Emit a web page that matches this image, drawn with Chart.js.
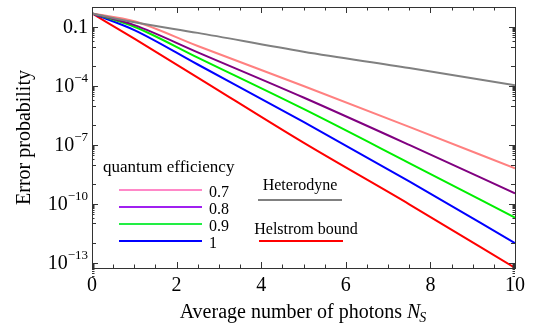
<!DOCTYPE html>
<html>
<head>
<meta charset="utf-8">
<script src="https://cdn.jsdelivr.net/npm/chart.js@4.4.1/dist/chart.umd.min.js"></script>
<style>
  html, body { margin: 0; padding: 0; background: #fff; }
  #wrap { width: 533px; height: 329px; }
</style>
</head>
<body>
<div id="wrap"><canvas id="chart" width="533" height="329"></canvas></div>
<script>
// values
const photons = [0, 1, 2.5, 5, 7.5, 10];
const heterodyne = [0.5, 0.178, 0.051, 5.6e-3, 8.3e-4, 1.1e-4];
const eff07 = [0.5, 0.2, 1.1e-2, 1.0e-4, 8.3e-7, 6.4e-9];
const eff08 = [0.5, 0.126, 5.2e-3, 2.6e-5, 1.0e-7, 3.4e-10];
const eff09 = [0.5, 0.105, 2.8e-3, 6.8e-6, 1.2e-8, 2.0e-11];
const eff10 = [0.5, 0.071, 1.25e-3, 1.5e-6, 1.4e-9, 1.0e-12];
const helstrom = [0.5, 0.026, 2.7e-4, 1.3e-7, 9.5e-11, 5.5e-14];

const xTickLabels = ['0', '2', '4', '6', '8', '10'];
const yTickExps = [-1, -4, -7, -10, -13];
const efficiencyLabels = ['0.7', '0.8', '0.9', '1'];

const FONT = '"Liberation Serif", "DejaVu Serif", serif';

const pts = ys => photons.map((x, i) => ({ x: x, y: ys[i] }));

const line = (label, ys, color) => ({
  label: label,
  data: pts(ys),
  borderColor: color,
  borderWidth: 2,
  pointRadius: 0,
  fill: false,
  cubicInterpolationMode: 'monotone'
});

// frame, ticks, labels and the in-plot legend
const decorations = {
  id: 'decorations',
  afterDraw(chart) {
    const ctx = chart.ctx;
    const a = chart.chartArea;
    const xs = chart.scales.x, ys = chart.scales.y;
    ctx.save();

    // frame
    ctx.strokeStyle = '#333';
    ctx.lineWidth = 1;
    ctx.strokeRect(Math.round(a.left) + 0.5, Math.round(a.top) + 0.5,
      Math.round(a.right - a.left), Math.round(a.bottom - a.top));

    // x ticks (inward, bottom and top)
    ctx.beginPath();
    for (let v = 0; v <= 10.001; v += 0.5) {
      const px = Math.round(xs.getPixelForValue(v)) + 0.5;
      const len = (Math.abs(v % 2) < 0.01) ? 6 : 3.5;
      ctx.moveTo(px, a.bottom); ctx.lineTo(px, a.bottom - len);
      ctx.moveTo(px, a.top); ctx.lineTo(px, a.top + len);
    }
    // y ticks (inward, left and right)
    for (let e = 0; e >= -13; e--) {
      const py = Math.round(ys.getPixelForValue(Math.pow(10, e))) + 0.5;
      const major = yTickExps.includes(e);
      const len = major ? 6 : 4;
      ctx.moveTo(a.left, py); ctx.lineTo(a.left + len, py);
      ctx.moveTo(a.right, py); ctx.lineTo(a.right - len, py);
      if (major) {
        for (let k = 2; k <= 9; k++) {
          const sy = Math.round(ys.getPixelForValue(k * Math.pow(10, e - 1))) + 0.5;
          ctx.moveTo(a.left, sy); ctx.lineTo(a.left + 2.5, sy);
          ctx.moveTo(a.right, sy); ctx.lineTo(a.right - 2.5, sy);
        }
      }
    }
    ctx.stroke();

    ctx.fillStyle = '#000';
    // x tick labels
    ctx.font = '20px ' + FONT;
    ctx.textAlign = 'center';
    ctx.textBaseline = 'middle';
    xTickLabels.forEach(t => {
      ctx.fillText(t, xs.getPixelForValue(Number(t)), 286);
    });

    // y tick labels
    yTickExps.forEach(e => {
      const py = ys.getPixelForValue(Math.pow(10, e));
      const right = a.left - 4;
      ctx.textAlign = 'right';
      if (e === -1) {
        ctx.font = '20px ' + FONT;
        ctx.fillText('0.1', right, py + 1);
      } else {
        const sup = '\u2212' + (-e);
        ctx.font = '13px ' + FONT;
        const wSup = ctx.measureText(sup).width;
        ctx.fillText(sup, right, py - 7);
        ctx.font = '20px ' + FONT;
        ctx.fillText('10', right - wSup, py + 1);
      }
    });

    // axis titles
    ctx.textAlign = 'left';
    ctx.textBaseline = 'alphabetic';
    const t1 = 'Average number of photons ';
    ctx.font = '20px ' + FONT;
    const w1 = ctx.measureText(t1).width;
    ctx.font = 'italic 20px ' + FONT;
    const w2 = ctx.measureText('N').width;
    ctx.font = 'italic 14px ' + FONT;
    const w3 = ctx.measureText('S').width;
    const tx = (a.left + a.right) / 2 - (w1 + w2 + w3) / 2;
    const ty = 318;
    ctx.font = '20px ' + FONT;
    ctx.fillText(t1, tx, ty);
    ctx.font = 'italic 20px ' + FONT;
    ctx.fillText('N', tx + w1, ty);
    ctx.font = 'italic 14px ' + FONT;
    ctx.fillText('S', tx + w1 + w2 - 1, ty + 4);

    ctx.save();
    ctx.translate(30, (a.top + a.bottom) / 2);
    ctx.rotate(-Math.PI / 2);
    ctx.font = '20px ' + FONT;
    ctx.textAlign = 'center';
    ctx.fillText('Error probability', 0, 0);
    ctx.restore();

    // legend
    ctx.font = '17px ' + FONT;
    ctx.textAlign = 'left';
    ctx.textBaseline = 'middle';
    ctx.fillText('quantum efficiency', 103, 168);
    const legColors = ['#ff88c8', '#a020f0', '#22ee44', '#0000ff'];
    const legY = [190, 207, 224, 241];
    ctx.lineWidth = 2;
    legY.forEach((y, i) => {
      ctx.strokeStyle = legColors[i];
      ctx.beginPath(); ctx.moveTo(119, y); ctx.lineTo(202, y); ctx.stroke();
      ctx.font = '16px ' + FONT;
      ctx.fillText(efficiencyLabels[i], 209, y + 3);
    });
    ctx.font = '16px ' + FONT;
    ctx.textAlign = 'center';
    ctx.fillText('Heterodyne', 300, 186);
    ctx.fillText('Helstrom bound', 306, 230);
    ctx.strokeStyle = '#808080';
    ctx.beginPath(); ctx.moveTo(258, 200); ctx.lineTo(342, 200); ctx.stroke();
    ctx.strokeStyle = '#ff0000';
    ctx.beginPath(); ctx.moveTo(259, 241); ctx.lineTo(343, 241); ctx.stroke();

    ctx.restore();
  }
};

new Chart(document.getElementById('chart'), {
  type: 'line',
  data: {
    datasets: [
      line('Heterodyne', heterodyne, '#808080'),
      line('0.7', eff07, '#ff8080'),
      line('0.8', eff08, '#800080'),
      line('0.9', eff09, '#00ee00'),
      line('1', eff10, '#0000ff'),
      line('Helstrom bound', helstrom, '#ff0000')
    ]
  },
  options: {
    responsive: false,
    animation: false,
    layout: { padding: { left: 92, right: 18, top: 7, bottom: 61 } },
    plugins: { legend: { display: false }, tooltip: { enabled: false } },
    scales: {
      x: { type: 'linear', min: 0, max: 10, display: false },
      y: { type: 'logarithmic', min: 5.4e-14, max: 1.06, display: false }
    }
  },
  plugins: [decorations]
});
</script>
</body>
</html>
